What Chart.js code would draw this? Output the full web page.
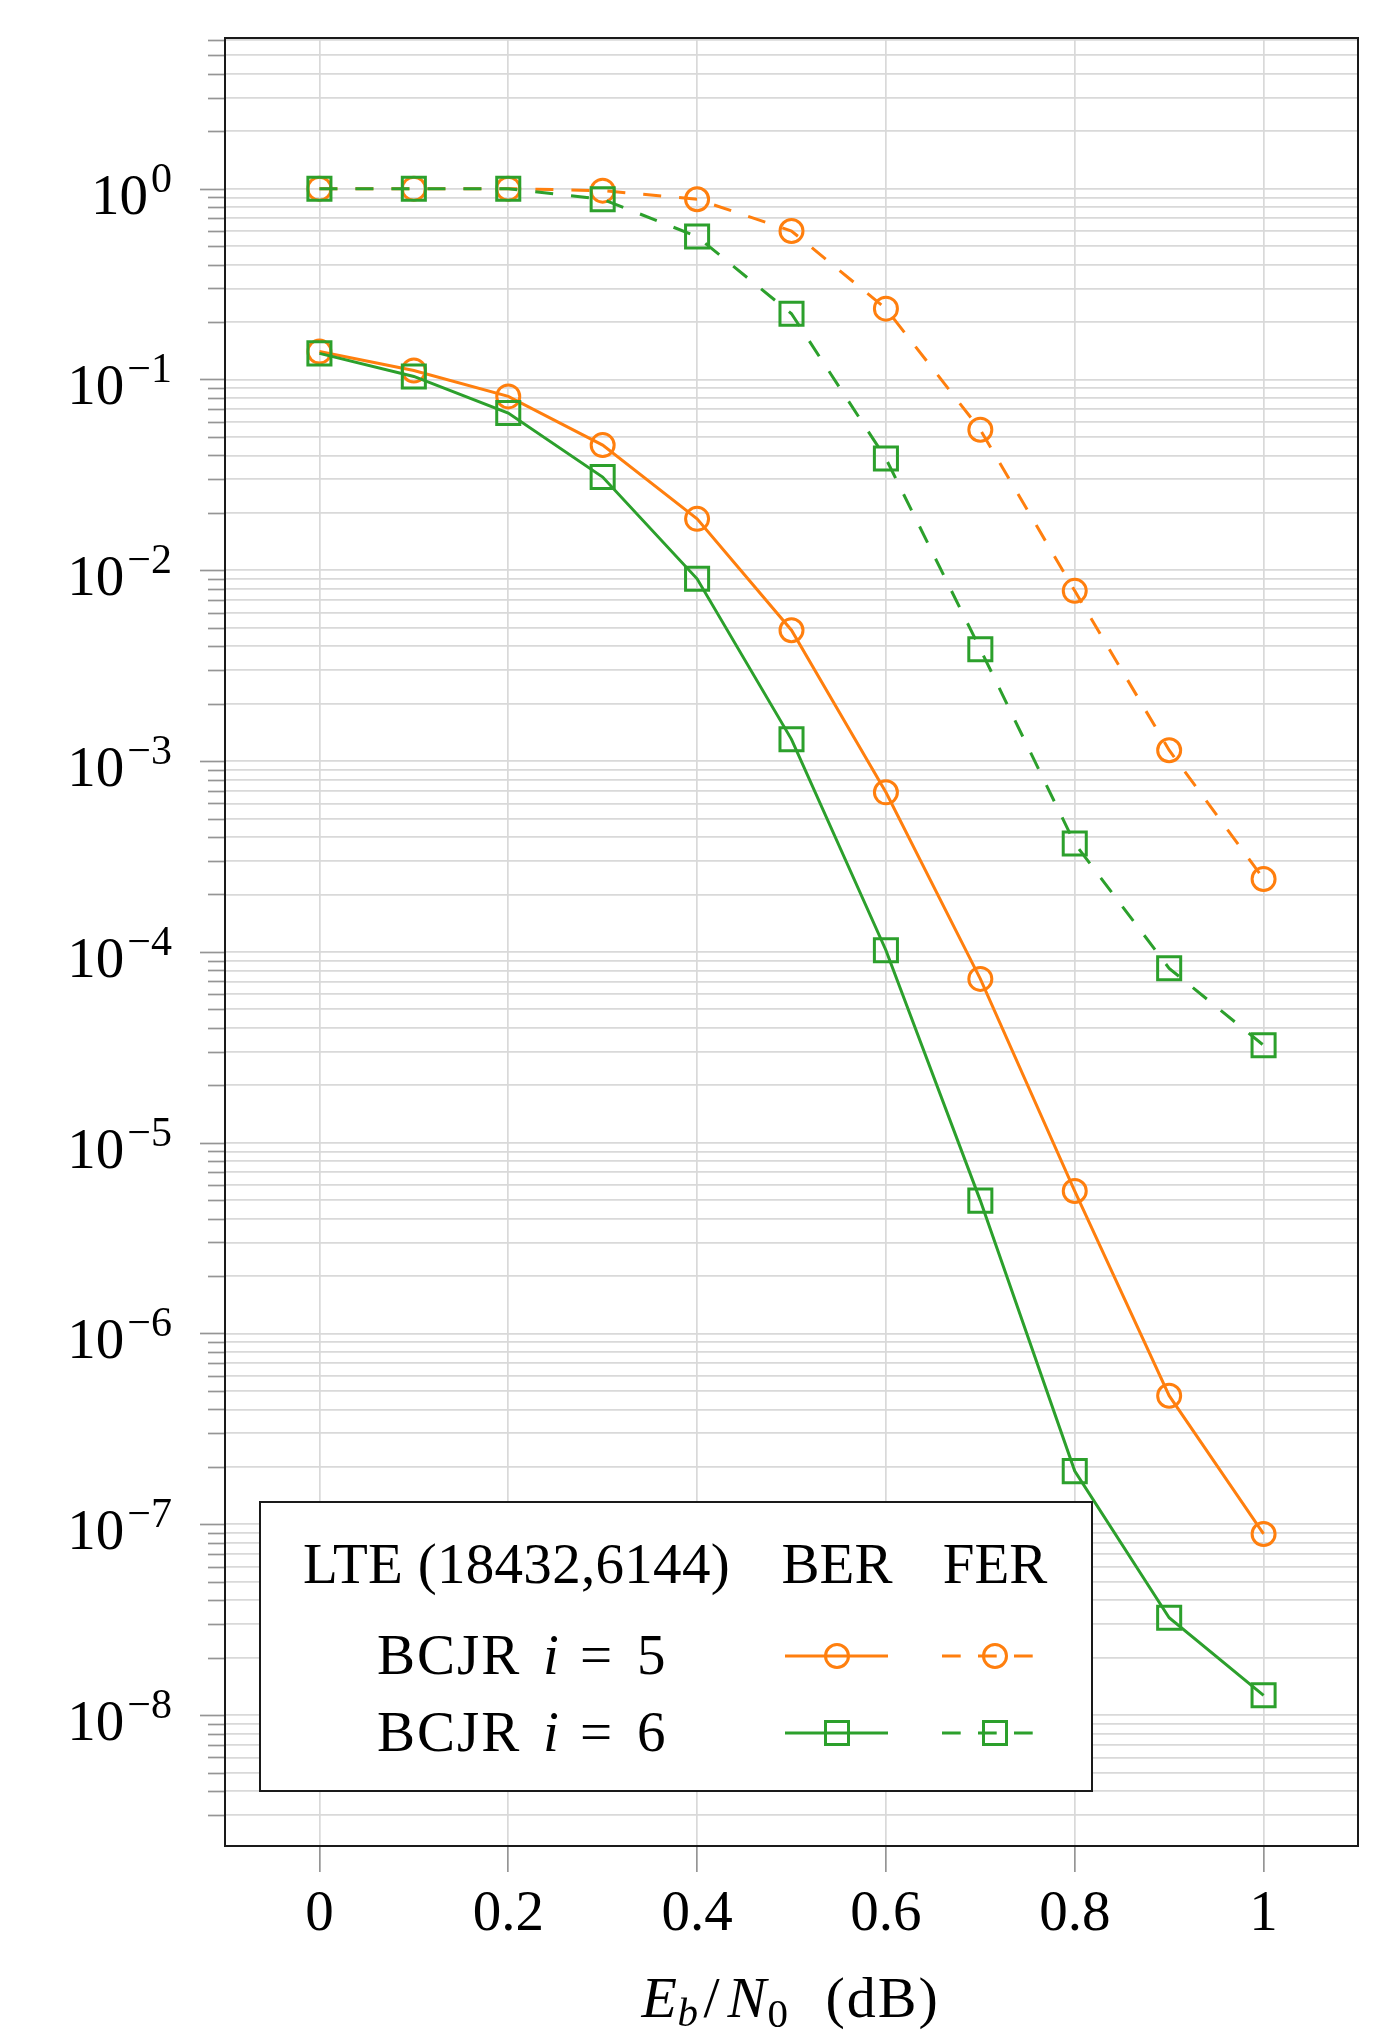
<!DOCTYPE html>
<html>
<head>
<meta charset="utf-8">
<script src="https://cdn.jsdelivr.net/npm/chart.js@4.4.1/dist/chart.umd.min.js"></script>
<style>
html,body{margin:0;padding:0;background:#ffffff;}
#wrap{width:1400px;height:2042px;position:relative;}
</style>
</head>
<body>
<div id="wrap"><canvas id="c"></canvas></div>
<script>
// ---------------- data ----------------
const ebn0 = [0, 0.1, 0.2, 0.3, 0.4, 0.5, 0.6, 0.7, 0.8, 0.9, 1.0];
const berI5 = [0.140, 0.1115, 0.0815, 0.0453, 0.0186, 0.00485, 6.86e-4, 7.22e-5, 5.58e-6, 4.72e-7, 8.9e-8];
const ferI5 = [1.0, 1.0, 1.0, 0.976, 0.88, 0.60, 0.235, 0.0545, 0.0078, 0.00114, 2.41e-4];
const berI6 = [0.137, 0.1037, 0.0667, 0.0308, 0.00902, 0.0013, 1.02e-4, 4.97e-6, 1.9e-7, 3.24e-8, 1.27e-8];
const ferI6 = [1.0, 1.0, 1.0, 0.88, 0.561, 0.221, 0.0385, 0.00386, 3.7e-4, 8.2e-5, 3.24e-5];

const xTickValues = [0, 0.2, 0.4, 0.6, 0.8, 1];
const xTickLabels = ['0', '0.2', '0.4', '0.6', '0.8', '1'];
const yMajorExponents = [0, -1, -2, -3, -4, -5, -6, -7, -8];
const yMinorMantissas = [1, 2, 3, 4, 5, 6, 7, 8, 9];

const legendTitle = 'LTE (18432,6144)';
const legendColumns = ['BER', 'FER'];
const legendRowName = 'BCJR';
const legendRowIters = ['5', '6'];

// ---------------- styling ----------------
const FONT = '"Liberation Serif", "Times New Roman", serif';
const ORANGE = '#ff7f0e';
const GREEN = '#2ca02c';
const GRID = '#d9d9d9';
const TICKC = '#959595';

const xMin = -0.1, xMax = 1.1;
const yMin = Math.pow(10, -8.686), yMax = Math.pow(10, 0.7896);

const yTickValues = [];
for (let e = -9; e <= 0; e++) {
  for (const m of yMinorMantissas) {
    const v = m * Math.pow(10, e);
    if (v >= yMin && v <= yMax) yTickValues.push(v);
  }
}

function makeDataset(label, values, color, style, dashed, order) {
  return {
    label: label,
    data: ebn0.map((x, i) => ({x: x, y: values[i]})),
    borderColor: color,
    backgroundColor: 'rgba(0,0,0,0)',
    borderWidth: 3,
    borderDash: dashed ? [18, 18] : [],
    borderCapStyle: 'butt',
    borderJoinStyle: 'miter',
    tension: 0,
    fill: false,
    pointStyle: style,
    pointRadius: style === 'rect' ? 16.3 : 11.5,
    pointBorderWidth: 3,
    pointBorderColor: color,
    pointBackgroundColor: 'rgba(0,0,0,0)',
    order: order,
    clip: false
  };
}

const datasets = [
  makeDataset('BCJR i = 5 BER', berI5, ORANGE, 'circle', false, 3),
  makeDataset('BCJR i = 5 FER', ferI5, ORANGE, 'circle', true, 2),
  makeDataset('BCJR i = 6 BER', berI6, GREEN, 'rect', false, 1),
  makeDataset('BCJR i = 6 FER', ferI6, GREEN, 'rect', true, 0)
];

function drawMarker(ctx, style, x, y, color) {
  ctx.save();
  ctx.strokeStyle = color;
  ctx.lineWidth = 3;
  ctx.setLineDash([]);
  ctx.beginPath();
  if (style === 'circle') {
    ctx.arc(x, y, 11.5, 0, Math.PI * 2);
  } else {
    ctx.rect(x - 11.5, y - 11.5, 23, 23);
  }
  ctx.stroke();
  ctx.restore();
}

function drawRuns(ctx, x0, base, runs) {
  for (const r of runs) {
    ctx.font = r.font;
    ctx.letterSpacing = r.ls || '0px';
    ctx.fillText(r.text, x0 + r.x, base + (r.dy || 0));
  }
  ctx.letterSpacing = '0px';
}

const decorPlugin = {
  id: 'decor',
  afterDraw(chart) {
    const ctx = chart.ctx;
    const ca = chart.chartArea;
    const ys = chart.scales.y;
    ctx.save();

    // y tick marks (outside, major longer)
    ctx.strokeStyle = TICKC;
    ctx.lineWidth = 1.7;
    for (const v of yTickValues) {
      const py = Math.round(ys.getPixelForValue(v)) + 0.5;
      const lg = Math.log10(v);
      const major = Math.abs(lg - Math.round(lg)) < 1e-9;
      ctx.beginPath();
      ctx.moveTo(ca.left - (major ? 25 : 17), py);
      ctx.lineTo(ca.left, py);
      ctx.stroke();
    }

    // frame
    ctx.strokeStyle = '#1a1a1a';
    ctx.lineWidth = 2;
    ctx.strokeRect(ca.left, ca.top, ca.right - ca.left, ca.bottom - ca.top);

    // y tick labels 10^e
    ctx.fillStyle = '#000';
    ctx.textAlign = 'right';
    ctx.textBaseline = 'alphabetic';
    const labelRight = ca.left - 53;
    for (const e of yMajorExponents) {
      const py = ys.getPixelForValue(Math.pow(10, e));
      const expText = e === 0 ? '0' : '\u2212' + String(-e);
      ctx.font = '42px ' + FONT;
      const ew = ctx.measureText(expText).width;
      ctx.fillText(expText, labelRight, py + 3);
      ctx.font = '57px ' + FONT;
      ctx.fillText('10', labelRight - ew - 3, py + 25);
    }

    // x axis title: E_b/N_0 (dB)
    ctx.textAlign = 'left';
    const cx = (ca.left + ca.right) / 2;
    drawRuns(ctx, cx, 2017, [
      {text: 'E', font: 'italic 58px ' + FONT, x: -150},
      {text: 'b', font: 'italic 41px ' + FONT, x: -114, dy: 9},
      {text: '/', font: '58px ' + FONT, x: -88},
      {text: 'N', font: 'italic 58px ' + FONT, x: -64},
      {text: '0', font: '41px ' + FONT, x: -24, dy: 10},
      {text: '(dB)', font: '58px ' + FONT, x: 34, ls: '2px'}
    ]);

    // legend box
    const lx = ca.left + 35, ly = ca.bottom - 344, lw = 832, lh = 289;
    ctx.fillStyle = '#ffffff';
    ctx.fillRect(lx, ly, lw, lh);
    ctx.strokeStyle = '#1a1a1a';
    ctx.lineWidth = 2;
    ctx.strokeRect(lx, ly, lw, lh);

    ctx.fillStyle = '#000';
    ctx.font = '57px ' + FONT;
    ctx.textAlign = 'left';
    ctx.letterSpacing = '0.3px';
    ctx.fillText(legendTitle, lx + 43, ly + 81);
    ctx.letterSpacing = '0px';
    const colBER = lx + 577, colFER = lx + 735;
    ctx.textAlign = 'center';
    ctx.fillText(legendColumns[0], colBER, ly + 81);
    ctx.fillText(legendColumns[1], colFER, ly + 81);

    const rowBase = [ly + 172, ly + 249];
    const rowColors = [ORANGE, GREEN];
    const rowStyles = ['circle', 'rect'];
    for (let r = 0; r < 2; r++) {
      const b = rowBase[r];
      ctx.fillStyle = '#000';
      ctx.textAlign = 'left';
      drawRuns(ctx, lx, b, [
        {text: legendRowName, font: '57px ' + FONT, x: 117, ls: '2px'},
        {text: 'i', font: 'italic 57px ' + FONT, x: 283},
        {text: '=', font: '57px ' + FONT, x: 320},
        {text: legendRowIters[r], font: '57px ' + FONT, x: 377}
      ]);

      const sy = b - 18;
      ctx.strokeStyle = rowColors[r];
      ctx.lineWidth = 3;
      ctx.setLineDash([]);
      ctx.beginPath();
      ctx.moveTo(colBER - 52, sy);
      ctx.lineTo(colBER + 51, sy);
      ctx.stroke();
      drawMarker(ctx, rowStyles[r], colBER, sy, rowColors[r]);

      ctx.setLineDash([18.7, 17.3]);
      ctx.beginPath();
      ctx.moveTo(colFER - 53, sy);
      ctx.lineTo(colFER + 38, sy);
      ctx.stroke();
      ctx.setLineDash([]);
      drawMarker(ctx, rowStyles[r], colFER, sy, rowColors[r]);
    }
    ctx.restore();
  }
};

Chart.defaults.font.family = FONT;

new Chart(document.getElementById('c'), {
  type: 'line',
  data: {datasets: datasets},
  options: {
    responsive: true,
    maintainAspectRatio: false,
    animation: false,
    events: [],
    layout: {padding: {top: 38, right: 42, left: 0, bottom: 0}},
    plugins: {legend: {display: false}, tooltip: {enabled: false}, title: {display: false}},
    scales: {
      x: {
        type: 'linear',
        min: xMin,
        max: xMax,
        afterBuildTicks: (s) => { s.ticks = xTickValues.map(v => ({value: v})); },
        afterFit: (s) => { s.height = 196; },
        ticks: {
          callback: (v, i) => xTickLabels[i],
          font: {family: FONT, size: 57},
          color: '#000',
          padding: 9,
          maxRotation: 0,
          autoSkip: false
        },
        grid: {color: GRID, lineWidth: 1.7, drawTicks: true, tickLength: 26, tickColor: TICKC, tickWidth: 1.7},
        border: {display: false}
      },
      y: {
        type: 'logarithmic',
        min: yMin,
        max: yMax,
        afterBuildTicks: (s) => { s.ticks = yTickValues.map(v => ({value: v})); },
        afterFit: (s) => { s.width = 225; },
        ticks: {display: false},
        grid: {color: GRID, lineWidth: 1.7, drawTicks: false},
        border: {display: false}
      }
    }
  },
  plugins: [decorPlugin]
});
</script>
</body>
</html>
